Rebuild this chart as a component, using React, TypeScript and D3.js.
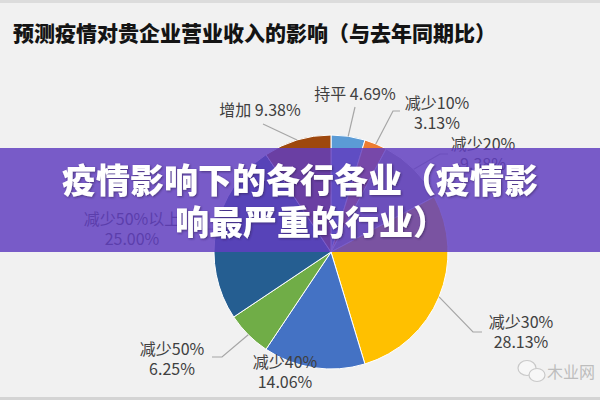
import React, { useEffect, useRef } from "react";
import * as d3 from "d3";

const categories = ["持平", "减少10%", "减少20%", "减少30%", "减少40%", "减少50%", "减少50%以上", "增加"];
const shares = [4.69, 3.13, 9.38, 28.13, 14.06, 6.25, 25.0, 9.38];
const colors = ["#5B9BD5", "#ED7D31", "#A5A5A5", "#FFC000", "#4472C4", "#70AD47", "#255E91", "#9E480E"];
const titleText = "预测疫情对贵企业营业收入的影响（与去年同期比）";
const bannerLines = ["疫情影响下的各行各业（疫情影", "响最严重的行业）"];
const watermark = "木业网";

// label layout: [label centre x, first line centre y, twoLine, elbow x, elbow y, end x, end y]
const labelLayout: [number, number, boolean, number | null, number | null, number | null, number | null][] = [
  [355, 94, false, null, null, 355, 107],
  [437, 103, true, 393, 111, 400, 111],
  [483, 144, true, 440, 154, 448, 154],
  [521, 322, true, 473, 332, 482, 332],
  [285, 362, true, null, null, null, null],
  [172, 349, true, 222, 357, 212, 357],
  [132, 219, true, null, null, 186, 229],
  [260, 110, false, null, null, 263, 124],
];

export default function App() {
  const ref = useRef<SVGSVGElement>(null);
  useEffect(() => {
    document.body.style.margin = "0";
    const svg = d3.select(ref.current);
    svg.selectAll("*").remove();
    const W = 600, H = 400;
    const cx = 331, cy = 252, R = 117;
    const font = "'Noto Sans CJK SC', 'Microsoft YaHei', sans-serif";

    const defs = svg.append("defs");
    const f = defs.append("filter").attr("id", "sh").attr("x", "-10%").attr("y", "-10%").attr("width", "120%").attr("height", "130%");
    f.append("feDropShadow").attr("dx", 1).attr("dy", 1).attr("stdDeviation", 0.8).attr("flood-color", "#2a1a50").attr("flood-opacity", 0.6);

    svg.append("rect").attr("width", W).attr("height", H).attr("fill", "#f1f1f1");
    svg.append("rect").attr("width", W).attr("height", 3).attr("fill", "#dcdcdc");
    svg.append("rect").attr("y", 397).attr("width", W).attr("height", 3).attr("fill", "#d4d4d4");

    svg.append("text").attr("x", 13).attr("y", 41).attr("font-family", font).attr("font-weight", 900)
      .attr("font-size", 21).attr("fill", "#141414").text(titleText);

    const data = categories.map((c, i) => ({ c, v: shares[i], color: colors[i] }));
    const pie = d3.pie<any>().value((d) => d.v).sort(null).startAngle(0).endAngle(2 * Math.PI);
    const arcs = pie(data);
    const arc = d3.arc<any>().innerRadius(0).outerRadius(R);
    const edge = d3.arc<any>().innerRadius(R).outerRadius(R);
    const g = svg.append("g").attr("transform", `translate(${cx},${cy})`);
    g.selectAll("path").data(arcs).enter().append("path")
      .attr("d", arc as any).attr("fill", (d: any) => d.data.color)
      .attr("stroke", "#ffffff").attr("stroke-width", 1);

    // leaders
    arcs.forEach((a: any, i: number) => {
      const [, , , ex, ey, tx, ty] = labelLayout[i];
      if (tx === null) return;
      const p = edge.centroid(a);
      const pts: [number, number][] = [[cx + p[0], cy + p[1]]];
      if (ex !== null) pts.push([ex, ey as number]);
      pts.push([tx, ty as number]);
      svg.append("path").attr("d", d3.line()(pts) as string).attr("fill", "none")
        .attr("stroke", "#a6a6a6").attr("stroke-width", 1.2);
    });

    // labels
    arcs.forEach((a: any, i: number) => {
      const [lx, ly, two] = labelLayout[i];
      const pct = a.data.v.toFixed(2) + "%";
      const mk = (y: number, s: string) =>
        svg.append("text").attr("font-family", font).attr("font-size", 16)
          .attr("fill", "#404040").attr("text-anchor", "middle").attr("x", lx).attr("y", y).text(s);
      if (two) {
        mk(ly + 6, a.data.c);
        mk(ly + 26, pct);
      } else {
        mk(ly + 6, a.data.c + " " + pct);
      }
    });

    // watermark
    const wm = svg.append("g").attr("stroke", "#c9c9c9").attr("fill", "#f7f7f7").attr("stroke-width", 1.2);
    wm.append("ellipse").attr("cx", 527).attr("cy", 368).attr("rx", 9).attr("ry", 7.5);
    wm.append("ellipse").attr("cx", 537).attr("cy", 375).attr("rx", 8).attr("ry", 6.5);
    svg.append("text").attr("x", 547).attr("y", 378).attr("font-family", font).attr("font-size", 16)
      .attr("fill", "#bdbdbd").text(watermark);

    // banner
    svg.append("rect").attr("x", 0).attr("y", 148).attr("width", W).attr("height", 104)
      .attr("fill", "rgb(96,62,192)").attr("fill-opacity", 0.84);
    svg.append("text").attr("x", 300).attr("y", 193).attr("text-anchor", "middle").attr("font-family", font)
      .attr("font-weight", 900).attr("font-size", 34).attr("fill", "#ffffff").attr("filter", "url(#sh)")
      .text(bannerLines[0]);
    svg.append("text").attr("x", 175).attr("y", 235).attr("font-family", font)
      .attr("font-weight", 900).attr("font-size", 34).attr("fill", "#ffffff").attr("filter", "url(#sh)")
      .text(bannerLines[1]);
  }, []);
  return <svg ref={ref} width={600} height={400} style={{ display: "block" }} />;
}
